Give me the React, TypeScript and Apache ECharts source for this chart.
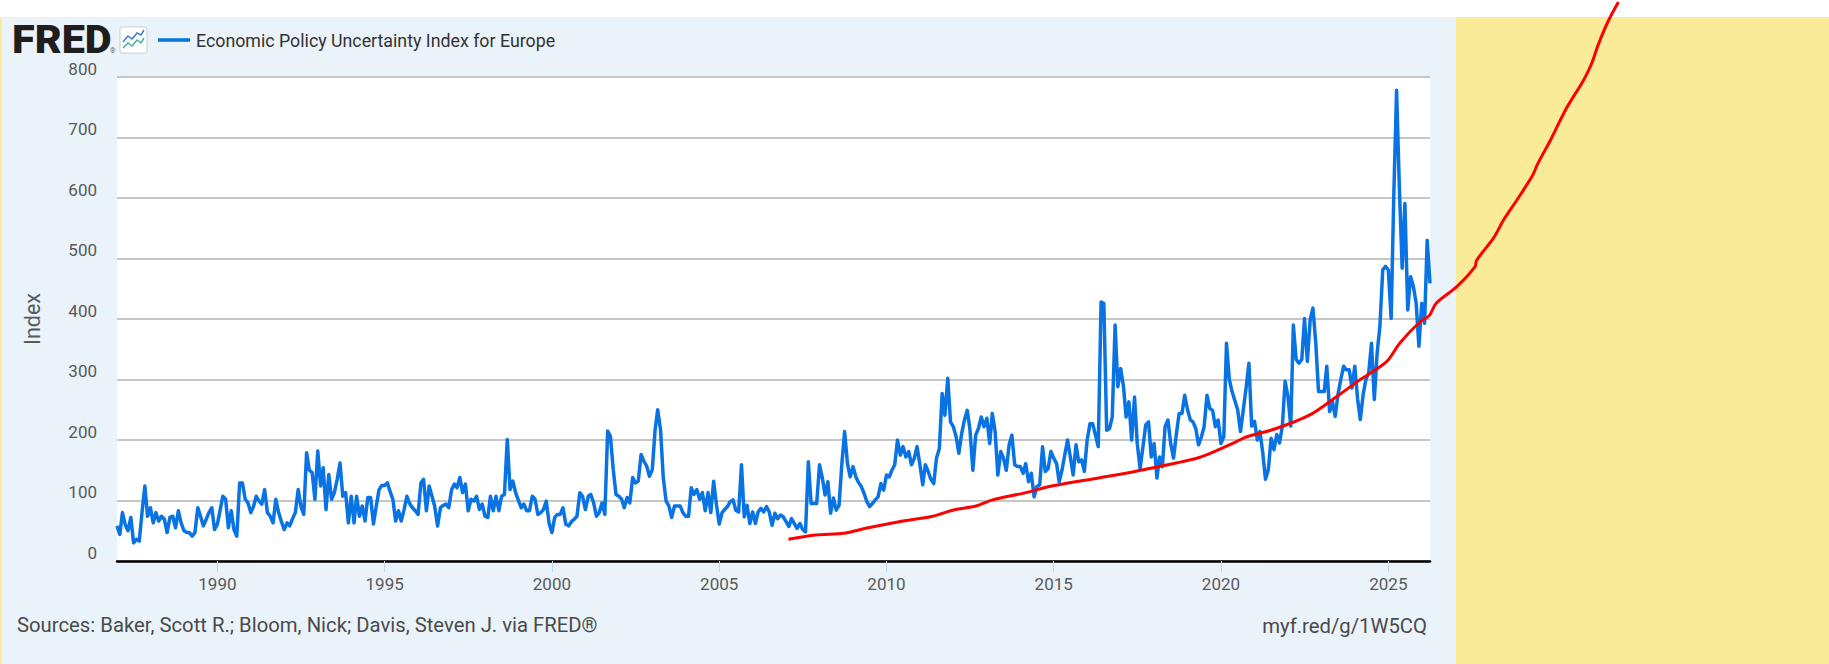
import React, { useEffect, useRef } from "react";
import * as echarts from "echarts";

// Monthly Economic Policy Uncertainty Index for Europe, Jan 1987 - Apr 2026
const START_YEAR = 1987;
const epu1987to1996 = [
  58, 44, 80, 60, 50, 72, 30, 36, 33, 80, 124, 74,
  88, 63, 80, 66, 74, 69, 47, 72, 74, 55, 83, 63,
  50, 47, 47, 41, 47, 88, 74, 58, 69, 80, 88, 52,
  61, 85, 107, 102, 55, 83, 52, 41, 129, 129, 102, 96,
  80, 91, 107, 99, 94, 118, 80, 74, 63, 102, 80, 65,
  52, 63, 58, 70, 80, 118, 90, 77, 179, 150, 146, 102,
  182, 124, 154, 85, 143, 102, 113, 135, 162, 107, 113, 63,
  107, 63, 107, 74, 91, 66, 105, 105, 61, 90, 118, 125,
  125, 129, 115, 102, 66, 83, 66, 85, 107, 95, 88, 83,
  77, 129, 135, 83, 124, 107, 90, 58, 88, 92, 94, 88,
];
const epu1997to2006 = [
  118, 127, 121, 138, 113, 127, 83, 102, 99, 107, 85, 94,
  74, 72, 107, 83, 107, 83, 107, 110, 201, 118, 132, 113,
  100, 88, 94, 83, 83, 107, 102, 77, 80, 85, 99, 63,
  47, 72, 77, 77, 88, 61, 58, 65, 69, 74, 113, 107,
  85, 107, 110, 96, 74, 80, 96, 77, 215, 206, 151, 110,
  107, 102, 88, 105, 96, 138, 129, 132, 176, 165, 157, 140,
  151, 217, 250, 217, 138, 99, 91, 72, 91, 91, 91, 80,
  74, 74, 121, 110, 118, 102, 113, 83, 113, 80, 132, 94,
  61, 80, 85, 90, 98, 101, 84, 81, 159, 73, 92, 62,
  81, 62, 81, 87, 81, 90, 81, 59, 79, 70, 76, 73,
];
const epu2007to2016 = [
  65, 57, 70, 62, 54, 62, 52, 48, 164, 95, 95, 95,
  159, 137, 109, 131, 79, 104, 84, 92, 161, 214, 161, 139,
  156, 139, 130, 123, 112, 98, 90, 95, 101, 106, 128, 117,
  142, 139, 150, 159, 200, 175, 189, 172, 181, 159, 170, 189,
  159, 126, 159, 148, 135, 128, 170, 186, 277, 241, 302, 230,
  222, 205, 178, 211, 233, 249, 216, 150, 208, 219, 238, 222,
  236, 194, 244, 214, 142, 181, 170, 150, 192, 208, 159, 156,
  156, 145, 161, 131, 145, 106, 123, 126, 189, 148, 153, 181,
  170, 161, 131, 150, 175, 200, 172, 142, 192, 164, 167, 148,
  200, 227, 227, 208, 189, 428, 426, 216, 219, 238, 390, 288,
];
const epu2017to2026 = [
  318, 288, 238, 263, 200, 271, 194, 153, 189, 225, 230, 172,
  194, 137, 172, 156, 222, 233, 194, 170, 210, 244, 244, 274,
  250, 233, 230, 219, 192, 205, 222, 274, 252, 249, 222, 233,
  194, 206, 360, 300, 280, 265, 250, 214, 250, 286, 327, 223,
  231, 200, 214, 179, 135, 151, 203, 184, 209, 195, 223, 297,
  272, 223, 390, 333, 327, 333, 401, 330, 399, 418, 360, 280,
  280, 280, 322, 247, 264, 239, 275, 300, 322, 316, 316, 286,
  322, 267, 234, 275, 300, 311, 360, 267, 344, 388, 481, 487,
  481, 401, 600, 778, 620, 484, 591, 415, 470, 454, 426, 355,
  426, 393, 530, 459,
];

// Hand-drawn red annotation (decimal year, index value)
const trendYears = [
  2007.07, 2007.89, 2008.74, 2009.38, 2010.38, 2011.38, 2011.98, 2012.68, 2013.17,
  2014.17, 2014.87, 2015.87, 2016.86, 2017.86, 2018.66, 2019.35, 2019.85, 2020.45,
  2020.75, 2021.65, 2022.64, 2023.44, 2024.14, 2024.94, 2025.34, 2025.94, 2026.23,
  2026.43, 2027.04, 2027.59, 2027.64, 2028.15, 2028.45, 2028.86, 2029.31, 2029.46,
  2029.87, 2030.32, 2030.82, 2031.07, 2031.28, 2031.58, 2031.88,
];
const trendValues = [
  36, 43, 46, 54, 65, 74, 84, 91, 101,
  113, 123, 133, 142, 153, 162, 171, 182, 197,
  205, 219, 241, 271, 299, 329, 360, 395, 406,
  426, 453, 486, 497, 534, 564, 598, 637, 656,
  698, 748, 793, 821, 854, 893, 924,
];

const yTicks = [0, 100, 200, 300, 400, 500, 600, 700, 800];
const xTickYears = [1990, 1995, 2000, 2005, 2010, 2015, 2020, 2025];

const W = 1829;
const H = 664;
const PLOT_L = 117;
const PLOT_R = 1430;
const PLOT_T = 77;
const PLOT_B = 561;

function decYearToTs(dy: number): number {
  const y = Math.floor(dy);
  const a = Date.UTC(y, 0, 1);
  const b = Date.UTC(y + 1, 0, 1);
  return a + (dy - y) * (b - a);
}

export default function App() {
  const ref = useRef<HTMLDivElement>(null);

  useEffect(() => {
    document.body.style.margin = "0";
    if (!ref.current) return;
    const chart = echarts.init(ref.current, null, { renderer: "svg" });

    const values = [...epu1987to1996, ...epu1997to2006, ...epu2007to2016, ...epu2017to2026];
    const seriesData = values.map((v, i) => [
      Date.UTC(START_YEAR + Math.floor(i / 12), i % 12, 1),
      v,
    ]);
    const xMin = Date.UTC(START_YEAR, 0, 1);
    const xMax = seriesData[seriesData.length - 1][0] as number;
    const plotW = PLOT_R - PLOT_L;
    const plotH = PLOT_B - PLOT_T;
    const xMax2 = xMin + ((xMax - xMin) * (W - PLOT_L)) / plotW;
    const yMax2 = (yTicks[yTicks.length - 1] * PLOT_B) / plotH;

    const trendData = trendYears.map((y, i) => [decYearToTs(y), trendValues[i]]);
    const tickTs = xTickYears.map((y) => Date.UTC(y, 0, 1));
    const blue = "#0a73e4";

    chart.setOption({
      animation: false,
      backgroundColor: "#ffffff",
      textStyle: { fontFamily: "Roboto" },
      grid: [
        { left: PLOT_L, right: W - PLOT_R, top: PLOT_T, bottom: H - PLOT_B, show: false },
        { left: PLOT_L, right: 0, top: 0, bottom: H - PLOT_B, show: false },
      ],
      xAxis: [
        {
          type: "value",
          gridIndex: 0,
          min: xMin,
          max: xMax,
          axisLine: { show: true, onZero: false, lineStyle: { color: "#000000", width: 2.5 } },
          axisTick: {
            show: true,
            length: 11,
            customValues: tickTs,
            lineStyle: { color: "#c3d7ee", width: 1 },
          },
          axisLabel: {
            customValues: tickTs,
            formatter: (v: number) => String(new Date(v).getUTCFullYear()),
            fontSize: 17,
            color: "#595959",
            margin: 14,
            fontFamily: "Roboto",
          },
          splitLine: { show: false },
        },
        { type: "value", gridIndex: 1, min: xMin, max: xMax2, show: false },
      ],
      yAxis: [
        {
          type: "value",
          gridIndex: 0,
          min: 0,
          max: 800,
          interval: 100,
          name: "Index",
          nameLocation: "middle",
          nameGap: 74,
          nameTextStyle: { fontSize: 21.5, color: "#595959", fontFamily: "Roboto" },
          axisLine: { show: false },
          axisTick: { show: false },
          axisLabel: {
            fontSize: 17,
            color: "#595959",
            margin: 20,
            verticalAlign: "bottom",
            fontFamily: "Roboto",
          },
          splitLine: { show: true, lineStyle: { color: "#c6c6c6", width: 2 } },
        },
        { type: "value", gridIndex: 1, min: 0, max: yMax2, show: false },
      ],
      series: [
        {
          name: "Economic Policy Uncertainty Index for Europe",
          type: "line",
          xAxisIndex: 0,
          yAxisIndex: 0,
          data: seriesData,
          showSymbol: false,
          symbol: "none",
          lineStyle: { color: blue, width: 3.5, join: "round" },
          z: 3,
          silent: true,
        },
        {
          name: "annotation",
          type: "line",
          xAxisIndex: 1,
          yAxisIndex: 1,
          data: trendData,
          showSymbol: false,
          symbol: "none",
          smooth: 0.3,
          lineStyle: { color: "#ff0000", width: 3 },
          z: 5,
          silent: true,
        },
      ],
      graphic: [
        { type: "rect", z: -10, silent: true, shape: { x: 2, y: 17, width: 1454, height: H - 17 }, style: { fill: "#eaf2fa" } },
        { type: "rect", z: -10, silent: true, shape: { x: 1456, y: 17, width: W - 1456, height: H - 17 }, style: { fill: "#f9eb97" } },
        { type: "rect", z: -10, silent: true, shape: { x: 0, y: 17, width: 2, height: H - 17 }, style: { fill: "#f9eb97" } },
        { type: "rect", z: -9, silent: true, shape: { x: PLOT_L, y: PLOT_T, width: plotW, height: plotH }, style: { fill: "#ffffff" } },
        {
          type: "text",
          x: 12,
          y: 40,
          scaleX: 1.09,
          silent: true,
          style: { text: "FRED", fontSize: 38, fontWeight: 900, fontFamily: "Roboto", fill: "#1e1e1e", verticalAlign: "middle", align: "left" },
        },
        {
          type: "text",
          x: 110,
          y: 51,
          silent: true,
          style: { text: "®", fontSize: 7, fontFamily: "Roboto", fill: "#666", verticalAlign: "middle", align: "left" },
        },
        {
          type: "group",
          x: 120,
          y: 27,
          silent: true,
          children: [
            { type: "rect", shape: { x: 0, y: 0, width: 27, height: 26, r: 2 }, style: { fill: "#ffffff", stroke: "#cfcfcf", lineWidth: 1 } },
            { type: "polyline", shape: { points: [[3, 15], [8, 9], [12, 12], [17, 6], [21, 8], [24, 3]] }, style: { stroke: "#3b7ddd", lineWidth: 1.5, fill: "none" } },
            { type: "polyline", shape: { points: [[3, 21], [8, 16], [12, 19], [17, 13], [21, 16], [24, 11]] }, style: { stroke: "#45b29d", lineWidth: 1.5, fill: "none" } },
          ],
        },
        { type: "line", silent: true, shape: { x1: 158, y1: 40, x2: 190, y2: 40 }, style: { stroke: blue, lineWidth: 3.5 } },
        {
          type: "text",
          x: 196,
          y: 40,
          silent: true,
          style: { text: "Economic Policy Uncertainty Index for Europe", fontSize: 17.8, fontFamily: "Roboto", fill: "#333333", verticalAlign: "middle", align: "left" },
        },
        {
          type: "text",
          x: 17,
          y: 625,
          silent: true,
          style: { text: "Sources: Baker, Scott R.; Bloom, Nick; Davis, Steven J. via FRED®", fontSize: 20.3, fontFamily: "Roboto", fill: "#4a4a4a", verticalAlign: "middle", align: "left" },
        },
        {
          type: "text",
          x: 1427,
          y: 626,
          silent: true,
          style: { text: "myf.red/g/1W5CQ", fontSize: 20.3, fontFamily: "Roboto", fill: "#4a4a4a", verticalAlign: "middle", align: "right" },
        },
      ],
    });

    return () => chart.dispose();
  }, []);

  return <div ref={ref} style={{ width: W, height: H }} />;
}
